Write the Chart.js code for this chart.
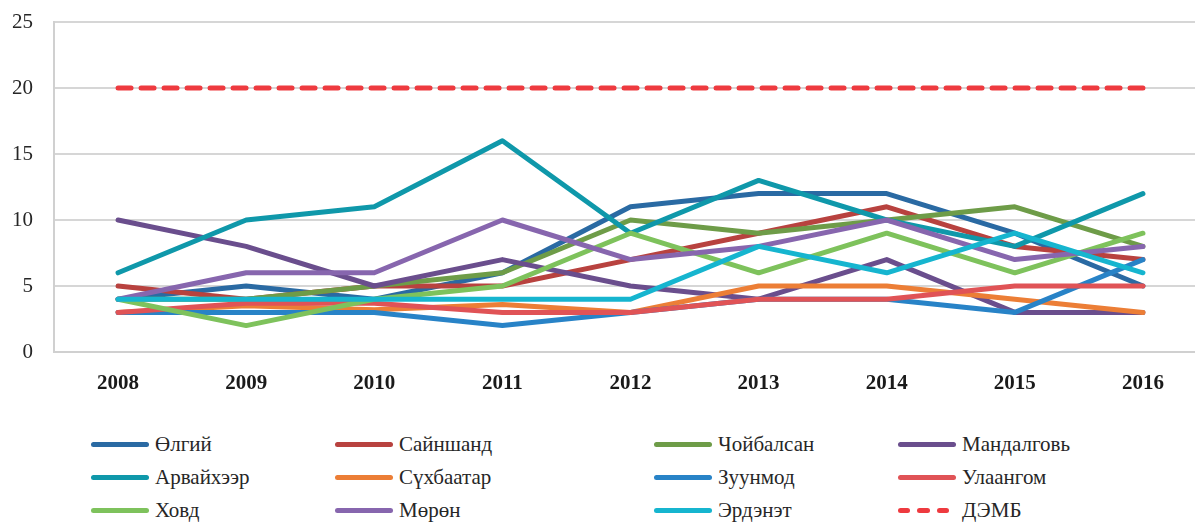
<!DOCTYPE html>
<html>
<head>
<meta charset="utf-8">
<script src="https://cdn.jsdelivr.net/npm/chart.js@4.4.1/dist/chart.umd.min.js"></script>
<style>
  html, body { margin: 0; padding: 0; background: #fff; overflow: hidden; width: 1195px; height: 522px; }
  #wrap { position: relative; width: 1195px; height: 522px; overflow: hidden; }
  canvas { position: absolute; left: 0; top: 0; }
  .item { position: absolute; height: 24px; display: flex; align-items: center;
          font-family: 'Liberation Serif', 'Times New Roman', 'DejaVu Serif', serif; font-size: 21px; color: #262626; white-space: nowrap; }
  .swatch { width: 58px; height: 5px; border-radius: 3px; margin-right: 6px; }
  .dash { display: flex; width: 58px; margin-right: 6px; }
  .dash span { width: 15px; height: 5px; border-radius: 3px; margin-right: 7px; }
</style>
</head>
<body>
<div id="wrap">
  <canvas id="chart" width="1210" height="410"></canvas>
  <div id="legend"></div>
</div>
<script>
// years on the x axis
const years = ["2008", "2009", "2010", "2011", "2012", "2013", "2014", "2015", "2016"];

// values per city
const olgii      = [4, 5, 4, 6, 11, 12, 12, 9, 5];
const sainshand  = [5, 4, 5, 5, 7, 9, 11, 8, 7];
const choibalsan = [4, 4, 5, 6, 10, 9, 10, 11, 8];
const mandalgovi = [10, 8, 5, 7, 5, 4, 7, 3, 3];
const arvaikheer = [6, 10, 11, 16, 9, 13, 10, 8, 12];
const sukhbaatar = [3, 3.5, 3.2, 3.6, 3, 5, 5, 4, 3];
const zuunmod    = [3, 3, 3, 2, 3, 4, 4, 3, 7];
const ulaangom   = [3, 3.7, 3.7, 3, 3, 4, 4, 5, 5];
const khovd      = [4, 2, 4, 5, 9, 6, 9, 6, 9];
const moron      = [4, 6, 6, 10, 7, 8, 10, 7, 8];
const erdenet    = [4, 4, 4, 4, 4, 8, 6, 9, 6];
const who        = [20, 20, 20, 20, 20, 20, 20, 20, 20];

const yTicks = [0, 5, 10, 15, 20, 25];

const serif = "'Liberation Serif', 'Times New Roman', serif";

const series = [
  { label: "Өлгий",      data: olgii,      color: "#2a6aa3" },
  { label: "Сайншанд",   data: sainshand,  color: "#b8423f" },
  { label: "Чойбалсан",  data: choibalsan, color: "#6e9c48" },
  { label: "Мандалговь", data: mandalgovi, color: "#6a4e8d" },
  { label: "Арвайхээр",  data: arvaikheer, color: "#0f98aa" },
  { label: "Сүхбаатар",  data: sukhbaatar, color: "#ec7e36" },
  { label: "Зуунмод",    data: zuunmod,    color: "#2883c7" },
  { label: "Улаангом",   data: ulaangom,   color: "#e05356" },
  { label: "Ховд",       data: khovd,      color: "#7ec25c" },
  { label: "Мөрөн",      data: moron,      color: "#8766ae" },
  { label: "Эрдэнэт",    data: erdenet,    color: "#16b5cf" },
  { label: "ДЭМБ",       data: who,        color: "#ee3a3f", dashed: true }
];

const n = series.length;
const datasets = series.map((s, i) => ({
  label: s.label,
  data: s.data,
  borderColor: s.color,
  backgroundColor: s.color,
  borderWidth: 5,
  borderCapStyle: "round",
  borderJoinStyle: "round",
  borderDash: s.dashed ? [13, 10] : [],
  pointRadius: 0,
  tension: 0,
  fill: false,
  order: n - i // later series drawn on top, like the original
}));

new Chart(document.getElementById("chart"), {
  type: "line",
  data: { labels: years, datasets: datasets },
  options: {
    responsive: false,
    animation: false,
    layout: { padding: { top: 22, right: 3, left: 0, bottom: 0 } },
    plugins: { legend: { display: false }, tooltip: { enabled: false } },
    scales: {
      x: {
        offset: true,
        grid: { display: false },
        border: { display: true, color: "#d0d0d0", width: 2 },
        ticks: {
          padding: 11,
          color: "#1a1a1a",
          font: { family: serif, size: 21, weight: "bold" }
        },
        afterFit: (s) => { s.height = 58; }
      },
      y: {
        min: 0,
        max: 25,
        afterBuildTicks: (s) => { s.ticks = yTicks.map((v) => ({ value: v })); },
        // invisible tick marks give the label gap without extra top padding
        grid: { color: "#d6d6d6", lineWidth: 2, drawTicks: true, tickLength: 21, tickColor: "rgba(0,0,0,0)" },
        border: { display: true, color: "#d0d0d0", width: 2 },
        ticks: {
          padding: 0,
          color: "#262626",
          font: { family: serif, size: 21 }
        },
        afterFit: (s) => { s.width = 54; }
      }
    }
  }
});

// legend laid out in 4 columns, 3 rows like the original
const colX = [91, 335, 654, 898];
const rowY = [432, 465, 498];
const legend = document.getElementById("legend");
series.forEach((s, i) => {
  const item = document.createElement("div");
  item.className = "item";
  item.style.left = colX[i % 4] + "px";
  item.style.top = rowY[Math.floor(i / 4)] + "px";
  let mark;
  if (s.dashed) {
    mark = document.createElement("div");
    mark.className = "dash";
    for (let k = 0; k < 3; k++) {
      const d = document.createElement("span");
      d.style.background = s.color;
      mark.appendChild(d);
    }
  } else {
    mark = document.createElement("div");
    mark.className = "swatch";
    mark.style.background = s.color;
  }
  item.appendChild(mark);
  const txt = document.createElement("span");
  txt.textContent = s.label;
  item.appendChild(txt);
  legend.appendChild(item);
});
</script>
</body>
</html>
